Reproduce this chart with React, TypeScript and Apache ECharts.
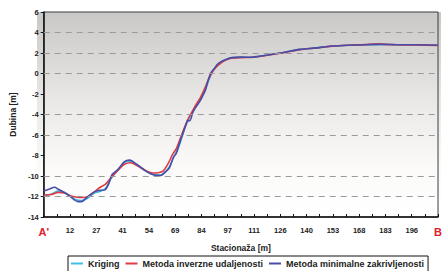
import React, { useEffect, useRef } from "react";
import * as echarts from "echarts";

const xLabels = ["A'", "12", "27", "41", "54", "69", "84", "97", "111", "126", "140", "153", "168", "183", "196", "B"];
const seriesNames = ["Kriging", "Metoda inverzne udaljenosti", "Metoda minimalne zakrivljenosti"];
const gridValues = [4, 2, 0, -4, -6, -10, -12];

// x in station-label index units, y in metres
const krigingData: [number, number][] = [
  [0, -12.0], [0.3, -11.75], [0.55, -11.45], [0.8, -11.6], [1.0, -11.95], [1.2, -12.3], [1.45, -12.4],
  [1.65, -12.2], [1.9, -11.7], [2.15, -11.5], [2.35, -11.2], [2.55, -10.3], [2.8, -9.45], [3.07, -8.7],
  [3.26, -8.55], [3.56, -8.95], [3.9, -9.55], [4.2, -9.85], [4.45, -9.9], [4.63, -9.6], [4.8, -9.0],
  [4.95, -8.1], [5.1, -7.4], [5.25, -6.3], [5.4, -5.1], [5.55, -4.3], [5.7, -3.6], [5.85, -3.0],
  [6.0, -2.4], [6.15, -1.6], [6.3, -0.5], [6.45, 0.3], [6.6, 0.85], [6.8, 1.2], [7.0, 1.45], [7.2, 1.55],
  [7.52, 1.6], [7.89, 1.58], [8.19, 1.68], [8.52, 1.8], [9.11, 2.05], [9.74, 2.35], [10.37, 2.5],
  [10.96, 2.68], [11.59, 2.75], [12.22, 2.81], [12.81, 2.84], [13.44, 2.81], [14.19, 2.8], [15, 2.75],
];
const inverseData: [number, number][] = [
  [0, -11.85], [0.3, -11.8], [0.55, -11.6], [0.8, -11.65], [1.0, -11.9], [1.2, -12.05], [1.5, -12.1],
  [1.7, -12.0], [1.9, -11.6], [2.15, -11.1], [2.35, -10.8], [2.55, -10.2], [2.8, -9.5], [3.07, -8.85],
  [3.3, -8.7], [3.56, -9.0], [3.9, -9.5], [4.15, -9.7], [4.4, -9.65], [4.55, -9.5], [4.75, -8.7],
  [4.9, -7.9], [5.05, -7.3], [5.2, -6.3], [5.35, -5.3], [5.5, -4.4], [5.65, -3.7], [5.8, -3.0],
  [5.95, -2.4], [6.1, -1.6], [6.25, -0.7], [6.4, 0.1], [6.55, 0.6], [6.75, 1.05], [6.95, 1.35],
  [7.15, 1.5], [7.5, 1.55], [7.89, 1.56], [8.19, 1.66], [8.52, 1.78], [9.11, 2.03], [9.74, 2.33],
  [10.37, 2.5], [10.96, 2.67], [11.59, 2.76], [12.22, 2.82], [12.7, 2.9], [13.0, 2.84], [13.44, 2.8],
  [14.19, 2.78], [15, 2.74],
];
const minCurvData: [number, number][] = [
  [0, -11.45], [0.19, -11.3], [0.41, -11.1], [0.56, -11.3], [0.74, -11.55], [0.96, -11.9], [1.15, -12.3],
  [1.3, -12.5], [1.44, -12.5], [1.59, -12.2], [1.78, -11.8], [1.96, -11.5], [2.15, -11.4], [2.33, -11.35],
  [2.48, -10.7], [2.59, -9.9], [2.81, -9.4], [3.07, -8.6], [3.26, -8.45], [3.56, -8.9], [3.93, -9.6],
  [4.19, -9.9], [4.44, -9.95], [4.63, -9.6], [4.78, -9.2], [4.93, -8.2], [5.04, -7.8], [5.19, -6.6],
  [5.3, -5.8], [5.41, -5.0], [5.48, -4.6], [5.56, -4.6], [5.67, -3.8], [5.78, -3.3], [5.93, -2.75],
  [6.04, -2.2], [6.15, -1.6], [6.26, -0.6], [6.37, 0.1], [6.48, 0.45], [6.63, 0.95], [6.78, 1.2],
  [6.96, 1.4], [7.15, 1.55], [7.52, 1.6], [7.89, 1.58], [8.19, 1.68], [8.52, 1.8], [9.11, 2.05],
  [9.74, 2.35], [10.37, 2.5], [10.96, 2.68], [11.59, 2.75], [12.22, 2.81], [12.81, 2.84], [13.44, 2.81],
  [14.19, 2.8], [15, 2.75],
];

const colors = ["#3fbfe6", "#e03a44", "#4b4ca6"];

export default function App() {
  const ref = useRef<HTMLDivElement>(null);
  useEffect(() => {
    if (!ref.current) return;
    const chart = echarts.init(ref.current, undefined, { renderer: "svg" });
    const font = "Arial, 'Liberation Sans', sans-serif";
    const G = { left: 37, right: 4, top: 12, bottom: 54 };
    const W = 445, H = 271;
    const lineSeries = (name: string, data: [number, number][], color: string, extra: any = {}) => ({
      name,
      type: "line",
      data,
      showSymbol: false,
      symbol: "none",
      smooth: 0.3,
      lineStyle: { color, width: 1.6 },
      itemStyle: { color },
      z: 3,
      ...extra,
    });
    chart.setOption({
      animation: false,
      backgroundColor: "#ffffff",
      textStyle: { fontFamily: font },
      graphic: [
        {
          type: "rect",
          z: -10,
          silent: true,
          shape: { x: G.left, y: G.top, width: W - G.left - G.right, height: H - G.top - G.bottom },
          style: {
            fill: new echarts.graphic.LinearGradient(0, 0, 0, 1, [
              { offset: 0, color: "#cac8c6" },
              { offset: 0.45, color: "#ebe9e8" },
              { offset: 0.75, color: "#fbfaf9" },
              { offset: 1, color: "#ffffff" },
            ]),
          },
        },
      ],
      grid: {
        ...G,
        show: true,
        borderColor: "#3c3c3c",
        borderWidth: 1,
        backgroundColor: "transparent",
      },
      xAxis: {
        type: "value",
        min: 0,
        max: 15,
        interval: 1,
        name: "Stacionaža [m]",
        nameLocation: "middle",
        nameGap: 26,
        nameTextStyle: { fontSize: 8.5, fontWeight: "bold", color: "#222", fontFamily: font },
        axisLine: { show: true, onZero: false, lineStyle: { color: "#111", width: 1.5 } },
        axisTick: { show: true, inside: true, length: 3, lineStyle: { color: "#111" } },
        minorTick: { show: true, splitNumber: 2, length: 3, lineStyle: { color: "#111" } },
        splitLine: { show: false },
        axisLabel: {
          margin: 9,
          fontSize: 7.5,
          fontWeight: "bold",
          color: "#222",
          fontFamily: font,
          formatter: (v: number) => {
            const s = xLabels[Math.round(v)] ?? "";
            return Math.round(v) === 0 || Math.round(v) === 15 ? `{end|${s}}` : s;
          },
          rich: {
            end: { fontSize: 11, fontWeight: "bold", color: "#e0202a", fontFamily: font },
          },
        },
      },
      yAxis: {
        type: "value",
        min: -14,
        max: 6,
        interval: 2,
        name: "Dubina [m]",
        nameLocation: "middle",
        nameGap: 25,
        nameTextStyle: { fontSize: 8.5, fontWeight: "bold", color: "#222", fontFamily: font },
        axisLine: { show: true, onZero: false, lineStyle: { color: "#111", width: 1.5 } },
        axisTick: { show: true, length: 3, lineStyle: { color: "#111" } },
        splitLine: { show: false },
        axisLabel: { margin: 5, fontSize: 7.5, fontWeight: "bold", color: "#222", fontFamily: font },
      },
      legend: {
        left: 68,
        top: 256,
        orient: "horizontal",
        itemWidth: 12,
        itemHeight: 2,
        itemGap: 6,
        icon: "rect",
        padding: [3, 4, 12, 3],
        borderColor: "#111",
        borderWidth: 1,
        backgroundColor: "#fff",
        textStyle: { fontSize: 9, fontWeight: "bold", color: "#222", fontFamily: font },
        data: seriesNames,
      },
      series: [
        lineSeries(seriesNames[0], krigingData, colors[0], {
          markLine: {
            silent: true,
            symbol: "none",
            label: { show: false },
            lineStyle: { color: "#9a9a9a", type: [6, 5], width: 1 },
            data: gridValues.map((v) => ({ yAxis: v })),
          },
        }),
        lineSeries(seriesNames[1], inverseData, colors[1]),
        lineSeries(seriesNames[2], minCurvData, colors[2]),
      ],
    });
    return () => chart.dispose();
  }, []);
  return (
    <div
      ref={ref}
      style={{ width: 445, height: 271, position: "fixed", left: 0, top: 0 }}
    />
  );
}
